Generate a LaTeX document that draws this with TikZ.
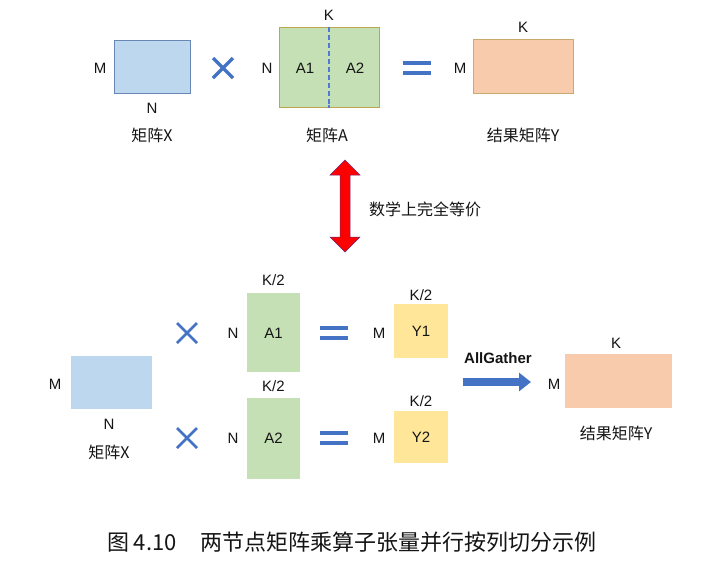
\documentclass[tikz,border=0pt]{standalone}
\usepackage{fontspec}
\setmainfont{Liberation Sans}
\newfontfamily\cjk{Noto Sans CJK SC}
\usetikzlibrary{arrows.meta,calc}
\definecolor{xblue}{RGB}{189,215,238}
\definecolor{xborder}{RGB}{105,135,180}
\definecolor{agreen}{RGB}{197,224,180}
\definecolor{aborder}{RGB}{190,165,80}
\definecolor{yorange}{RGB}{248,203,173}
\definecolor{yborder}{RGB}{200,170,110}
\definecolor{yyellow}{RGB}{255,230,153}
\definecolor{opblue}{RGB}{68,114,196}
\definecolor{dashblue}{RGB}{80,120,215}
\definecolor{txt}{RGB}{20,20,20}
\definecolor{redborder}{RGB}{110,40,120}
\begin{document}
\begin{tikzpicture}[x=1pt,y=-1pt,
  lbl/.style={font=\fontsize{15}{16}\selectfont, text=txt, inner sep=0pt},
  cjklbl/.style={font=\fontsize{16}{18}\selectfont\cjk, text=txt, inner sep=0pt},
  mat/.style={inner sep=0pt, anchor=north west},
  opx/.style={draw=opblue, line width=3.2pt},
  opeq/.style={draw=opblue, line width=4pt}]
\useasboundingbox (0,0) rectangle (713,566);
\fill[white] (0,0) rectangle (713,566);

% ---------- top row ----------
\node[mat, fill=xblue, draw=xborder, line width=0.8pt, minimum width=76pt, minimum height=53pt] (tX) at (114,40) {};
\node[lbl] (tXm) at (100,68) {M};
\node[lbl] (tXn) at (152,108) {N};
\node[cjklbl] (tXc) at (152,135) {矩阵X};

\coordinate (tx1) at (223,68);
\draw[opx] ($(tx1)+(-10,-10)$) -- ($(tx1)+(10,10)$) ($(tx1)+(-10,10)$) -- ($(tx1)+(10,-10)$);

\node[lbl] (tAn) at (267,68) {N};
\node[mat, fill=agreen, draw=aborder, line width=0.9pt, minimum width=100pt, minimum height=80pt] (tA) at (279,27) {};
\foreach \yy in {27,35,...,99} {
  \fill[dashblue] ($(tA.north)+(-1,\yy-27)$) rectangle ($(tA.north)+(1,\yy-22)$);
}
\fill[dashblue] ($(tA.south)+(-1,-3)$) rectangle ($(tA.south)+(1,0)$);
\node[lbl] (tAk) at (329,15) {K};
\node[lbl] (tA1) at (305,68) {A1};
\node[lbl] (tA2) at (355,68) {A2};
\node[cjklbl] (tAc) at (327,135) {矩阵A};

\coordinate (teq) at (417,68);
\draw[opeq] ($(teq)+(-14,-5)$) -- ($(teq)+(14,-5)$) ($(teq)+(-14,5)$) -- ($(teq)+(14,5)$);

\node[lbl] (tYm) at (460,68) {M};
\node[mat, fill=yorange, draw=yborder, line width=0.9pt, minimum width=100pt, minimum height=54pt] (tY) at (473,39) {};
\node[lbl] (tYk) at (523,27) {K};
\node[cjklbl] (tYc) at (523,135) {结果矩阵Y};

% ---------- equivalence arrow ----------
\filldraw[fill=red, draw=redborder, line width=0.5pt]
  (345,160) -- (360,175) -- (350,175) -- (350,237) -- (360,237) -- (345,252)
  -- (330,237) -- (340,237) -- (340,175) -- (330,175) -- cycle;
\node[cjklbl, anchor=west] (eqt) at (369,209) {数学上完全等价};

% ---------- bottom ----------
\node[mat, fill=xblue, minimum width=81pt, minimum height=53pt] (bX) at (71,356) {};
\node[lbl] (bXm) at (55,384) {M};
\node[lbl] (bXn) at (109,424) {N};
\node[cjklbl] (bXc) at (109,452) {矩阵X};

\coordinate (bx1) at (187,333);
\draw[opx, line width=2.6pt] ($(bx1)+(-10,-10)$) -- ($(bx1)+(10,10)$) ($(bx1)+(-10,10)$) -- ($(bx1)+(10,-10)$);
\coordinate (bx2) at (187,438);
\draw[opx, line width=2.6pt] ($(bx2)+(-10,-10)$) -- ($(bx2)+(10,10)$) ($(bx2)+(-10,10)$) -- ($(bx2)+(10,-10)$);

\node[lbl] (bN1) at (233,333) {N};
\node[mat, fill=agreen, minimum width=53pt, minimum height=79pt] (bA1) at (247,293) {};
\node[lbl] (bA1t) at (273.5,333) {A1};
\node[lbl] (bA1k) at (273.5,280) {K/2};

\node[lbl] (bN2) at (233,438) {N};
\node[mat, fill=agreen, minimum width=53pt, minimum height=81pt] (bA2) at (247,398) {};
\node[lbl] (bA2t) at (273.5,438) {A2};
\node[lbl] (bA2k) at (273.5,386) {K/2};

\coordinate (beq1) at (334,333);
\draw[opeq, line width=3.6pt] ($(beq1)+(-14,-5)$) -- ($(beq1)+(14,-5)$) ($(beq1)+(-14,5)$) -- ($(beq1)+(14,5)$);
\coordinate (beq2) at (334,438);
\draw[opeq, line width=3.6pt] ($(beq2)+(-14,-5)$) -- ($(beq2)+(14,-5)$) ($(beq2)+(-14,5)$) -- ($(beq2)+(14,5)$);

\node[lbl] (bM1) at (379,333) {M};
\node[mat, fill=yyellow, minimum width=54pt, minimum height=54pt] (bY1) at (394,304) {};
\node[lbl] (bY1t) at (421,331) {Y1};
\node[lbl] (bY1k) at (421,295) {K/2};

\node[lbl] (bM2) at (379,438) {M};
\node[mat, fill=yyellow, minimum width=54pt, minimum height=52pt] (bY2) at (394,411) {};
\node[lbl] (bY2t) at (421,437) {Y2};
\node[lbl] (bY2k) at (421,401) {K/2};

\node[lbl, font=\fontsize{15}{16}\selectfont\bfseries] (ag) at (498,358) {AllGather};
\coordinate (agS) at (463,382);
\coordinate (agE) at (531,382);
\draw[opblue, line width=8pt, -{Triangle[length=12pt,width=18pt]}] (agS) -- (agE);

\node[lbl] (bYm) at (554,384) {M};
\node[mat, fill=yorange, minimum width=107pt, minimum height=54pt] (bY) at (565,354) {};
\node[lbl] (bYk) at (616,343) {K};
\node[cjklbl] (bYc) at (616,433) {结果矩阵Y};

% ---------- caption ----------
\node[font=\fontsize{22}{24}\selectfont\cjk, text=txt, inner sep=0pt] (caption) at (352,542) {图 4.10\hspace{1.1em}两节点矩阵乘算子张量并行按列切分示例};
\end{tikzpicture}
\end{document}
